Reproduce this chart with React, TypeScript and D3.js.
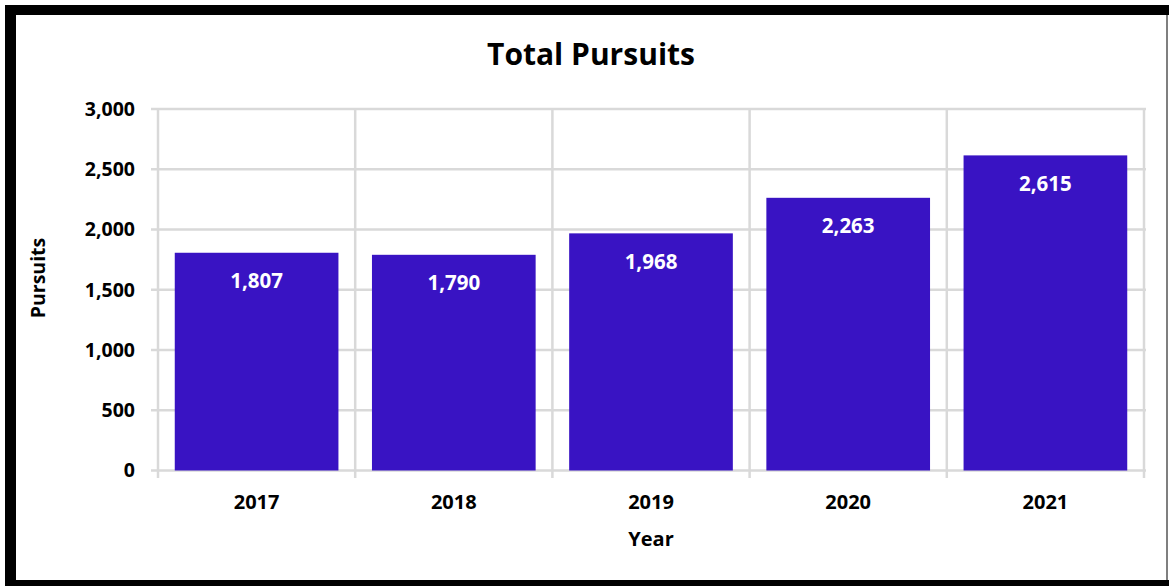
import React from "react";
import * as d3 from "d3";

const years = ["2017", "2018", "2019", "2020", "2021"];
const pursuits = [1807, 1790, 1968, 2263, 2615];
const yTicks = [0, 500, 1000, 1500, 2000, 2500, 3000];

const W = 1169;
const H = 586;
const FONT = "'Open Sans', 'Noto Sans', sans-serif";

export default function App() {
  const x = d3.scaleBand<string>().domain(years).range([158, 1144]).paddingInner(0.17).paddingOuter(0.085);
  const band = d3.scaleBand<string>().domain(years).range([158, 1144]);
  const y = d3.scaleLinear().domain([0, 3000]).range([470.5, 109]);
  const fmt = d3.format(",");
  const grid = "#d9d9d9";

  return (
    <svg width={W} height={H} style={{ position: "fixed", left: 0, top: 0, background: "#fff" }} fontFamily={FONT}>
      <rect x={0} y={0} width={W} height={H} fill="#fff" />
      {yTicks.map((t) => (
        <g key={t}>
          <line x1={151} x2={1146} y1={y(t)} y2={y(t)} stroke={grid} strokeWidth={2.5} />
          <text x={135} y={y(t)} dy="0.35em" textAnchor="end" fontSize={19.5} fontWeight={700} fill="#000">
            {fmt(t)}
          </text>
        </g>
      ))}
      {[...years.map((c) => band(c) as number), 1144].map((v, i) => (
        <line key={i} x1={v} x2={v} y1={109} y2={478} stroke={grid} strokeWidth={2.5} />
      ))}
      {years.map((c, i) => (
        <g key={c}>
          <rect x={x(c)} y={y(pursuits[i])} width={x.bandwidth()} height={y(0) - y(pursuits[i])} fill="#3913C3" />
          <text x={(x(c) as number) + x.bandwidth() / 2} y={y(pursuits[i]) + 28} dy="0.35em" textAnchor="middle" fontSize={20.5} fontWeight={700} fill="#fff">
            {fmt(pursuits[i])}
          </text>
          <text x={(band(c) as number) + band.bandwidth() / 2} y={502} dy="0.35em" textAnchor="middle" fontSize={20} fontWeight={700} fill="#000">
            {c}
          </text>
        </g>
      ))}
      <text x={651} y={539} dy="0.35em" textAnchor="middle" fontSize={20} fontWeight={700} fill="#000">Year</text>
      <text transform={`translate(38,278) rotate(-90)`} dy="0.35em" textAnchor="middle" fontSize={19.5} fontWeight={700} fill="#000">Pursuits</text>
      <text x={591} y={54} dy="0.35em" textAnchor="middle" fontSize={30} fontWeight={700} fill="#000">Total Pursuits</text>
      <rect x={5} y={5} width={11} height={581} fill="#000" />
      <rect x={5} y={5} width={1164} height={10} fill="#000" />
      <rect x={5} y={580} width={1164} height={6} fill="#000" />
      <line x1={1167} x2={1167} y1={15} y2={580} stroke="#555" strokeWidth={1.5} />
    </svg>
  );
}
